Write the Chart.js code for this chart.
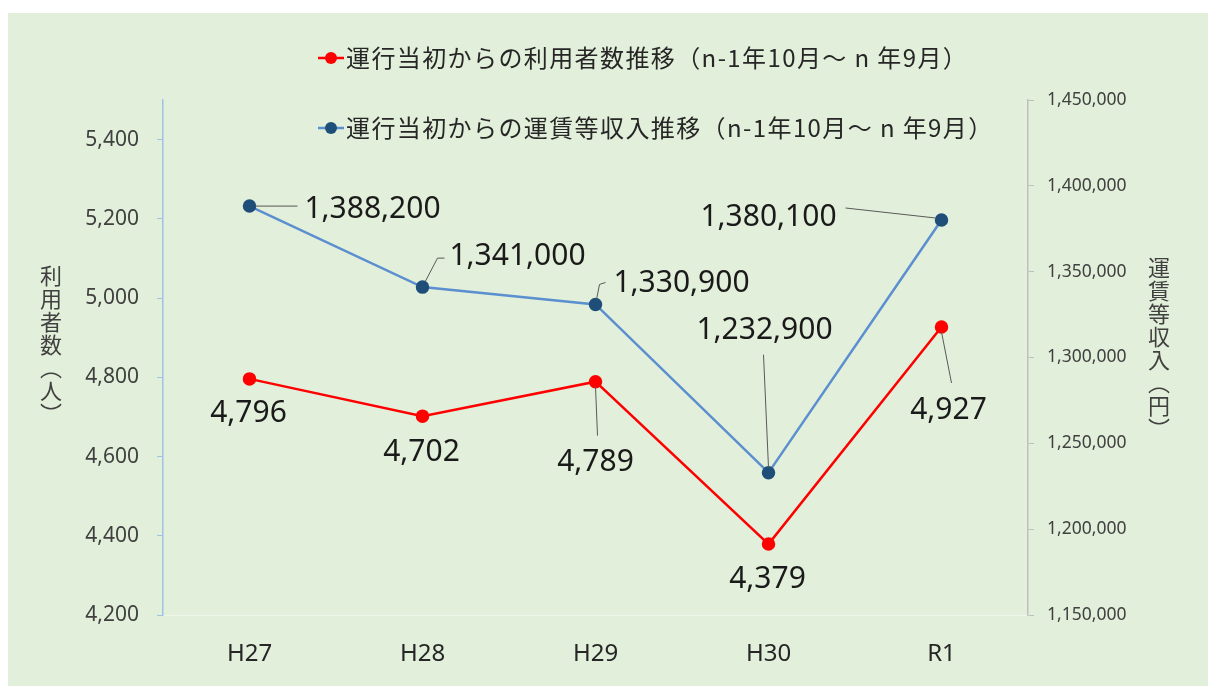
<!DOCTYPE html>
<html>
<head>
<meta charset="utf-8">
<script src="https://cdn.jsdelivr.net/npm/chart.js@4.4.1/dist/chart.umd.min.js"></script>
<style>
  html,body{margin:0;padding:0;background:#fff;}
  #wrap{width:1208px;height:686px;position:relative;}
</style>
</head>
<body>
<div id="wrap"><canvas id="c" width="1208" height="686"></canvas></div>
<script>
// ── data ──
const categories = ['H27','H28','H29','H30','R1'];
const riders  = [4796, 4702, 4789, 4379, 4927];
const revenue = [1388200, 1341000, 1330900, 1232900, 1380100];
const leftTicks  = [4200, 4400, 4600, 4800, 5000, 5200, 5400];
const rightTicks = [1150000, 1200000, 1250000, 1300000, 1350000, 1400000, 1450000];
const ridersLabel  = '運行当初からの利用者数推移（n-1年10月～ n 年9月）';
const revenueLabel = '運行当初からの運賃等収入推移（n-1年10月～ n 年9月）';
const leftTitle  = ['利','用','者','数','︵','人','︶'];
const rightTitle = ['運','賃','等','収','入','︵','円','︶'];

const JP = '"Noto Sans CJK JP", "Noto Sans", sans-serif';
const NUM = '"Noto Sans", "Noto Sans CJK JP", sans-serif';
const fmt = n => n.toLocaleString('en-US');

// label placement (offset of label centre from point, leader line points relative to point)
const labelPos = {
  revenue: [
    {dx:123, dy:3,  lead:[[6,0],[48,0]]},
    {dx:95,  dy:-31, lead:[[3,-6],[15,-29],[22,-29]]},
    {dx:86,  dy:-21, lead:[[1,-5],[4,-20],[10,-22]]},
    {dx:-4,  dy:-142, lead:[[0,-5],[-5,-118]]},
    {dx:-173, dy:-3, lead:[[-6,-2],[-96,-12]]}
  ],
  riders: [
    {dx:-1, dy:35},
    {dx:-1, dy:36},
    {dx:0,  dy:81, lead:[[0,5],[2,54]]},
    {dx:-1, dy:35},
    {dx:7,  dy:83, lead:[[0,5],[10,56]]}
  ]
};

const decor = {
  id:'decor',
  beforeDraw(chart){
    const ctx = chart.ctx;
    ctx.save();
    ctx.fillStyle = '#ffffff';
    ctx.fillRect(0,0,chart.width,chart.height);
    ctx.fillStyle = '#e2efda';
    ctx.fillRect(8,13,chart.width-8,chart.height-13);
    ctx.restore();
  },
  afterDraw(chart){
    const ctx = chart.ctx;
    ctx.save();
    // legend
    const items = [
      {y:58,  line:'#ff0000', dot:'#ff0000', text:ridersLabel},
      {y:128, line:'#5b8fd0', dot:'#1f4e79', text:revenueLabel}
    ];
    items.forEach(it => {
      ctx.strokeStyle = it.line; ctx.lineWidth = 2.5;
      ctx.beginPath(); ctx.moveTo(318,it.y); ctx.lineTo(344,it.y); ctx.stroke();
      ctx.fillStyle = it.dot;
      ctx.beginPath(); ctx.arc(331,it.y,6,0,Math.PI*2); ctx.fill();
      ctx.fillStyle = '#262626';
      ctx.font = '24px ' + JP;
      ctx.letterSpacing = '1.4px';
      ctx.textAlign = 'left'; ctx.textBaseline = 'middle';
      ctx.fillText(it.text, 346, it.y);
      ctx.letterSpacing = '0px';
    });
    // vertical axis titles
    ctx.font = '22px ' + JP;
    ctx.fillStyle = '#404040';
    ctx.textAlign = 'center'; ctx.textBaseline = 'middle';
    leftTitle.forEach((ch,i) => ctx.fillText(ch, 51, 276 + i*23));
    rightTitle.forEach((ch,i) => ctx.fillText(ch, 1159, 268 + i*23));
    // data labels
    const draw = (dsIndex, values, pos) => {
      const meta = chart.getDatasetMeta(dsIndex);
      meta.data.forEach((pt,i) => {
        const p = pos[i];
        if (p.lead) {
          ctx.strokeStyle = '#595959'; ctx.lineWidth = 1;
          ctx.beginPath();
          p.lead.forEach((q,k) => k ? ctx.lineTo(pt.x+q[0], pt.y+q[1]) : ctx.moveTo(pt.x+q[0], pt.y+q[1]));
          ctx.stroke();
        }
        ctx.fillStyle = '#1a1a1a';
        ctx.font = '30px ' + NUM;
        ctx.textAlign = 'center'; ctx.textBaseline = 'middle';
        ctx.fillText(fmt(values[i]), pt.x + p.dx, pt.y + p.dy);
      });
    };
    draw(1, revenue, labelPos.revenue);
    draw(0, riders, labelPos.riders);
    ctx.restore();
  }
};

new Chart(document.getElementById('c'), {
  type:'line',
  data:{
    labels: categories,
    datasets:[
      {label:ridersLabel, data:riders, yAxisID:'y', borderColor:'#ff0000', backgroundColor:'#ff0000',
       pointBackgroundColor:'#ff0000', pointBorderColor:'#ff0000', pointRadius:5.5, borderWidth:2.5, tension:0},
      {label:revenueLabel, data:revenue, yAxisID:'y2', borderColor:'#5b8fd0', backgroundColor:'#1f4e79',
       pointBackgroundColor:'#1f4e79', pointBorderColor:'#1f4e79', pointRadius:5.5, borderWidth:2.5, tension:0}
    ]
  },
  options:{
    responsive:false, animation:false,
    layout:{padding:{top:100, left:0, right:0, bottom:0}},
    plugins:{legend:{display:false}, tooltip:{enabled:false}},
    scales:{
      x:{
        offset:true,
        grid:{display:true, drawOnChartArea:false, drawTicks:false},
        border:{display:true, color:'#eef5e9', width:1},
        ticks:{color:'#262626', font:{size:24, family:NUM}, padding:25},
        afterFit: s => { s.height = 71; }
      },
      y:{
        position:'left', min:4200, max:5500,
        grid:{drawOnChartArea:false, drawTicks:true, tickLength:6, color:'#9dc3e6'},
        border:{display:true, color:'#9dc3e6', width:1.5},
        ticks:{color:'#404040', font:{size:21, family:NUM}, padding:18, callback:v => fmt(v)},
        afterBuildTicks: s => { s.ticks = leftTicks.map(v => ({value:v})); },
        afterFit: s => { s.width = 163; }
      },
      y2:{
        position:'right', min:1150000, max:1450000,
        grid:{drawOnChartArea:false, drawTicks:true, tickLength:6, color:'#bfbfbf'},
        border:{display:true, color:'#bfbfbf', width:1.5},
        ticks:{color:'#404040', font:{size:17.5, family:NUM}, padding:13, callback:v => fmt(v)},
        afterBuildTicks: s => { s.ticks = rightTicks.map(v => ({value:v})); },
        afterFit: s => { s.width = 180; }
      }
    }
  },
  plugins:[decor]
});
</script>
</body>
</html>
